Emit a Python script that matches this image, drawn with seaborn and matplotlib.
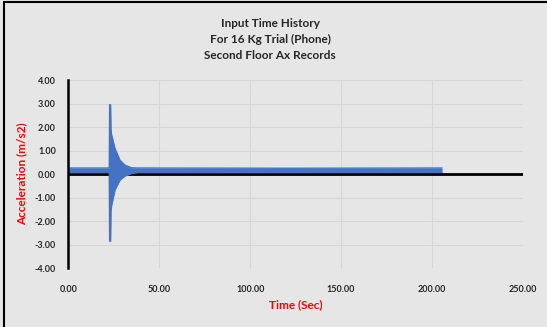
import numpy as np
import pandas as pd
import matplotlib
matplotlib.use("Agg")
import matplotlib.pyplot as plt
import seaborn as sns

time_s = [0.0, 22.5, 22.7, 23.2, 23.4, 23.8, 25.6, 28.3, 31.1, 34.8, 38.0, 120.0, 205.5]
upper = [0.26, 0.26, 2.95, 2.95, 1.90, 1.66, 1.10, 0.60, 0.38, 0.27, 0.26, 0.25, 0.26]
lower = [0.07, 0.07, -2.85, -2.85, -1.60, -1.32, -0.68, -0.26, -0.08, 0.03, 0.07, 0.07, 0.08]

x_ticks = [0, 50, 100, 150, 200, 250]
y_ticks = [-4, -3, -2, -1, 0, 1, 2, 3, 4]
title = "Input Time History\nFor 16 Kg Trial (Phone)\nSecond Floor Ax Records"

df = pd.DataFrame({"time": time_s, "upper": upper, "lower": lower})

sns.set_theme(style="whitegrid")
plt.rcParams["font.family"] = ["Lato", "DejaVu Sans"]

bg = "#e6e6e6"
blue = "#4472c4"

fig = plt.figure(figsize=(5.47, 3.27), dpi=100, facecolor=bg)
ax = fig.add_axes([0.125, 0.180, 0.831, 0.575], facecolor=bg)

# zero line (under the signal)
ax.axhline(0, color="black", lw=2, zorder=1)

# ── Signal envelope ───────────────────────────────
ax.fill_between(df["time"], df["lower"], df["upper"], color=blue, lw=0, zorder=2)
sns.lineplot(data=df, x="time", y="upper", ax=ax, color=blue, lw=1, zorder=2)
sns.lineplot(data=df, x="time", y="lower", ax=ax, color=blue, lw=1, zorder=2)

ax.set_xlim(0, 250)
ax.set_ylim(-4, 4)
ax.set_xticks(x_ticks)
ax.set_yticks(y_ticks)
ax.set_xticklabels([f"{v:.2f}" for v in x_ticks], fontsize=6.5, fontweight="bold")
ax.set_yticklabels([f"{v:.2f}" for v in y_ticks], fontsize=6.5, fontweight="bold")
ax.tick_params(axis="x", pad=12, length=0)
ax.tick_params(axis="y", pad=9, length=0)
ax.grid(True, color="#d6d6d6", lw=0.8)

for s in ["top", "right", "bottom"]:
    ax.spines[s].set_visible(False)
ax.spines["left"].set_color("black")
ax.spines["left"].set_linewidth(1.8)

ax.set_xlabel("Time (Sec)", color="red", fontsize=8.5, fontweight="bold", labelpad=4)
ax.set_ylabel("Acceleration (m/s2)", color="red", fontsize=8.5, fontweight="bold", labelpad=5)

fig.text(0.494, 0.945, title, ha="center", va="top", fontsize=8.5,
         fontweight="bold", linespacing=1.55)

# frame lines on the left and top of the picture
fig.add_artist(plt.Line2D([0.008, 0.008], [0, 0.994], color="black", lw=1.5))
fig.add_artist(plt.Line2D([0.008, 1], [0.994, 0.994], color="black", lw=1.5))

fig.savefig("out.png", dpi=100, facecolor=bg)
